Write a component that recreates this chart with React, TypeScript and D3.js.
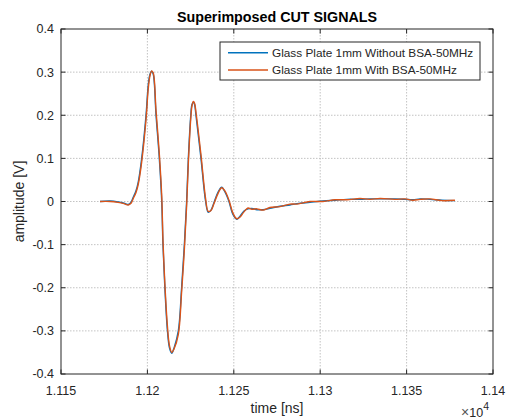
import React, { useRef, useEffect } from "react";
import * as d3 from "d3";

// time samples [ns]
const timeNs = [
  11172.6, 11178.4, 11183.0, 11186.5, 11188.9, 11190.5, 11191.8, 11193.4, 11194.7,
  11196.7, 11199.2, 11200.5, 11201.5, 11202.5, 11203.4, 11205.0, 11206.9, 11208.3,
  11209.0, 11210.1, 11211.6, 11212.8, 11214.1, 11215.4, 11217.9, 11219.8, 11221.4,
  11222.7, 11223.7, 11225.1, 11225.8, 11226.6, 11227.3, 11228.1, 11231.0, 11233.7,
  11235.2, 11236.8, 11238.5, 11240.9, 11243.0, 11244.9, 11247.2, 11249.5, 11251.7,
  11253.6, 11255.9, 11258.2, 11260.5, 11263.4, 11266.9, 11270.9, 11276.7, 11282.5,
  11286.6, 11294.1, 11301.6, 11308.6, 11315.5, 11323.0, 11328.8, 11334.6, 11343.3,
  11349.1, 11353.7, 11357.8, 11363.5, 11370.5, 11378.0,
];

const withoutBsa = [
  0.0, 0.001, -0.001, -0.004, -0.007, -0.002, 0.01, 0.025, 0.045,
  0.1, 0.2, 0.27, 0.295, 0.302, 0.295, 0.2, 0.1, 0.0,
  -0.1, -0.2, -0.3, -0.34, -0.352, -0.34, -0.3, -0.2, -0.1,
  0.0, 0.1, 0.2, 0.225, 0.23, 0.225, 0.2, 0.1, 0.0,
  -0.025, -0.02, -0.003, 0.022, 0.033, 0.022, 0.0, -0.03, -0.041,
  -0.034, -0.022, -0.017, -0.016, -0.019, -0.019, -0.016, -0.011, -0.008,
  -0.005, -0.002, 0.001, 0.003, 0.005, 0.005, 0.006, 0.006, 0.006,
  0.005, 0.004, 0.006, 0.005, 0.003, 0.002,
];

const withBsa = [
  0.0, 0.0, -0.002, -0.005, -0.008, -0.004, 0.007, 0.021, 0.04,
  0.092, 0.19, 0.262, 0.292, 0.303, 0.298, 0.21, 0.11, 0.012,
  -0.088, -0.19, -0.29, -0.335, -0.35, -0.342, -0.308, -0.21, -0.11,
  -0.01, 0.09, 0.193, 0.222, 0.232, 0.228, 0.207, 0.108, 0.006,
  -0.023, -0.021, -0.005, 0.019, 0.032, 0.024, 0.003, -0.027, -0.04,
  -0.036, -0.024, -0.015, -0.018, -0.017, -0.02, -0.014, -0.012, -0.006,
  -0.006, 0.0, 0.0, 0.004, 0.004, 0.007, 0.005, 0.007, 0.005,
  0.006, 0.003, 0.005, 0.006, 0.002, 0.003,
];

const xTicks = [11150, 11200, 11250, 11300, 11350, 11400];
const xTickLabels = ["1.115", "1.12", "1.125", "1.13", "1.135", "1.14"];
const yTicks = [-0.4, -0.3, -0.2, -0.1, 0, 0.1, 0.2, 0.3, 0.4];
const seriesNames = [
  "Glass Plate 1mm Without BSA-50MHz",
  "Glass Plate 1mm With BSA-50MHz",
];
const seriesColors = ["#0072BD", "#D95319"];

const FONT = "'Liberation Sans', Arial, Helvetica, sans-serif";
const INK = "#262626";

const App = () => {
  const ref = useRef<SVGSVGElement | null>(null);

  useEffect(() => {
    if (!ref.current) return;
    const svg = d3.select(ref.current);
    svg.selectAll("*").remove();

    const W = 530;
    const H = 419;
    const margin = { top: 29, right: W - 493, bottom: H - 374, left: 61 };
    const pw = W - margin.left - margin.right;
    const ph = H - margin.top - margin.bottom;

    svg.append("rect").attr("width", W).attr("height", H).attr("fill", "#fff");

    const x = d3.scaleLinear().domain([11150, 11400]).range([0, pw]);
    const y = d3.scaleLinear().domain([-0.4, 0.4]).range([ph, 0]);

    const g = svg
      .append("g")
      .attr("transform", `translate(${margin.left},${margin.top})`);

    // grid
    g.append("g")
      .selectAll("line")
      .data(xTicks.slice(1, -1))
      .enter()
      .append("line")
      .attr("x1", (d) => x(d))
      .attr("x2", (d) => x(d))
      .attr("y1", 0)
      .attr("y2", ph)
      .attr("stroke", "#b4b4b4")
      .attr("stroke-width", 0.8)
      .attr("stroke-dasharray", "1.5,1.5");
    g.append("g")
      .selectAll("line")
      .data(yTicks.slice(1, -1))
      .enter()
      .append("line")
      .attr("x1", 0)
      .attr("x2", pw)
      .attr("y1", (d) => y(d))
      .attr("y2", (d) => y(d))
      .attr("stroke", "#b4b4b4")
      .attr("stroke-width", 0.8)
      .attr("stroke-dasharray", "1.5,1.5");

    // signals
    const series = [withoutBsa, withBsa];
    series.forEach((vals, si) => {
      const line = d3
        .line<number>()
        .x((_, i) => x(timeNs[i]))
        .y((d) => y(d))
        .curve(d3.curveCatmullRom.alpha(0.5));
      g.append("path")
        .datum(vals)
        .attr("fill", "none")
        .attr("stroke", seriesColors[si])
        .attr("stroke-width", 1.4)
        .attr("stroke-linejoin", "round")
        .attr("d", line);
    });

    // box
    g.append("rect")
      .attr("x", 0)
      .attr("y", 0)
      .attr("width", pw)
      .attr("height", ph)
      .attr("fill", "none")
      .attr("stroke", INK)
      .attr("stroke-width", 1);

    // ticks (inside, all four sides)
    const tl = 4.5;
    xTicks.forEach((t) => {
      g.append("line").attr("x1", x(t)).attr("x2", x(t)).attr("y1", ph).attr("y2", ph - tl).attr("stroke", INK);
      g.append("line").attr("x1", x(t)).attr("x2", x(t)).attr("y1", 0).attr("y2", tl).attr("stroke", INK);
    });
    yTicks.forEach((t) => {
      g.append("line").attr("x1", 0).attr("x2", tl).attr("y1", y(t)).attr("y2", y(t)).attr("stroke", INK);
      g.append("line").attr("x1", pw).attr("x2", pw - tl).attr("y1", y(t)).attr("y2", y(t)).attr("stroke", INK);
    });

    // tick labels
    g.append("g")
      .selectAll("text")
      .data(xTicks)
      .enter()
      .append("text")
      .attr("x", (d) => x(d))
      .attr("y", ph + 21)
      .attr("text-anchor", "middle")
      .style("font-family", FONT)
      .style("font-size", "12.5px")
      .style("fill", INK)
      .text((_, i) => xTickLabels[i]);
    g.append("g")
      .selectAll("text")
      .data(yTicks)
      .enter()
      .append("text")
      .attr("x", -7)
      .attr("y", (d) => y(d))
      .attr("dy", "0.35em")
      .attr("text-anchor", "end")
      .style("font-family", FONT)
      .style("font-size", "12.5px")
      .style("fill", INK)
      .text((d) => String(d));

    // exponent
    const ex = svg
      .append("text")
      .attr("x", 489)
      .attr("y", 417)
      .attr("text-anchor", "end")
      .style("font-family", FONT)
      .style("font-size", "12.5px")
      .style("fill", INK);
    ex.append("tspan").text("\u00d7").style("fill", "#555").style("font-size", "14px");
    ex.append("tspan").text("10");
    ex.append("tspan").text("4").attr("dy", -7).style("font-size", "10.5px");

    // axis labels
    svg
      .append("text")
      .attr("x", margin.left + pw / 2)
      .attr("y", 413)
      .attr("text-anchor", "middle")
      .style("font-family", FONT)
      .style("font-size", "14px")
      .style("fill", INK)
      .text("time [ns]");
    svg
      .append("text")
      .attr("transform", `translate(24,${margin.top + ph / 2}) rotate(-90)`)
      .attr("text-anchor", "middle")
      .style("font-family", FONT)
      .style("font-size", "14px")
      .style("fill", INK)
      .text("amplitude [V]");

    // title
    svg
      .append("text")
      .attr("x", margin.left + pw / 2)
      .attr("y", 22)
      .attr("text-anchor", "middle")
      .style("font-family", FONT)
      .style("font-size", "14.3px")
      .style("font-weight", "bold")
      .style("fill", "#000")
      .text("Superimposed CUT SIGNALS");

    // legend
    const lg = svg.append("g").attr("transform", "translate(220,42)");
    lg.append("rect")
      .attr("width", 260)
      .attr("height", 38)
      .attr("fill", "#fff")
      .attr("stroke", INK)
      .attr("stroke-width", 1);
    seriesNames.forEach((name, i) => {
      const yy = 10.7 + i * 17.3;
      lg.append("line")
        .attr("x1", 8)
        .attr("x2", 48)
        .attr("y1", yy)
        .attr("y2", yy)
        .attr("stroke", seriesColors[i])
        .attr("stroke-width", 1.4);
      lg.append("text")
        .attr("x", 52)
        .attr("y", yy)
        .attr("dy", "0.35em")
        .style("font-family", FONT)
        .style("font-size", "11.8px")
        .style("fill", INK)
        .text(name);
    });
  }, []);

  return (
    <svg
      ref={ref}
      width={530}
      height={419}
      style={{ position: "absolute", left: 0, top: 0 }}
    />
  );
};

export default App;
